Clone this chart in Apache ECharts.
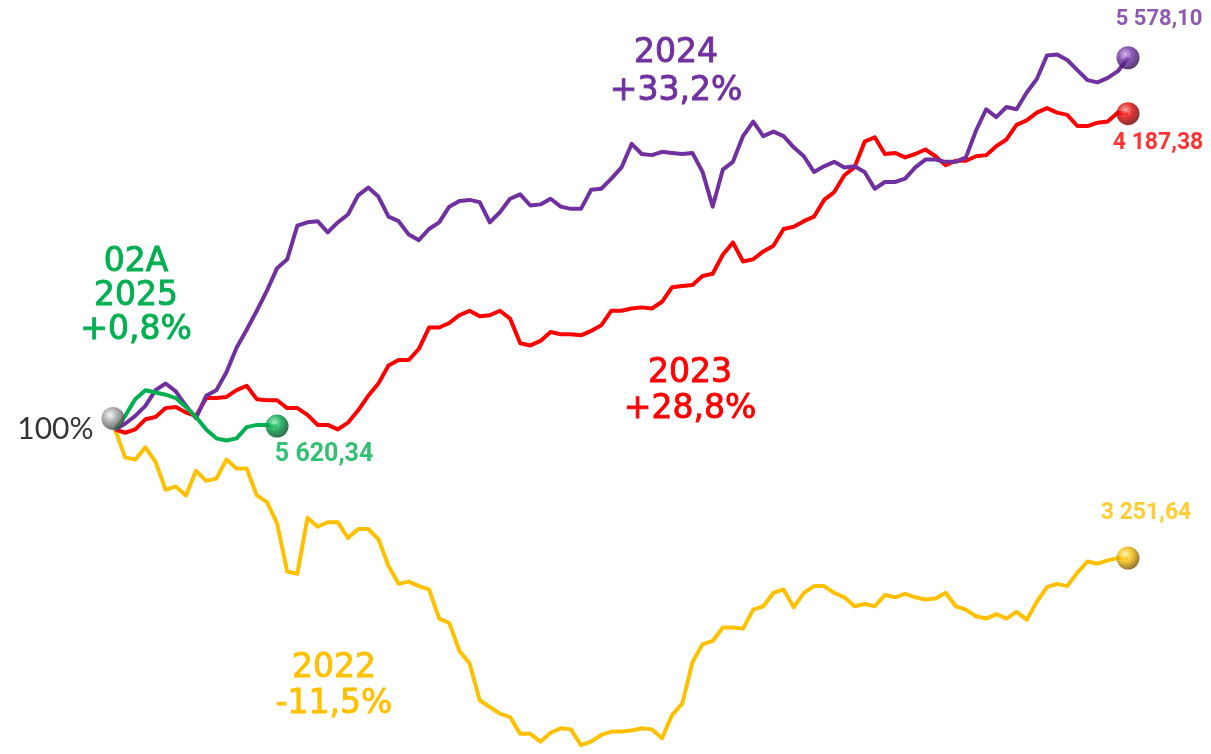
<!DOCTYPE html>
<html><head><meta charset="utf-8">
<script src="https://cdn.jsdelivr.net/npm/echarts@6/dist/echarts.min.js"></script>
<style>html,body{margin:0;padding:0;background:#fff}#c{width:1211px;height:754px}</style>
</head><body><div id="c"></div>
<script>
// percent change from start, sampled every 2.5 trading days
const STEP = 2.5;
const y2024 = [0.0,0.5,1.2,2.1,3.5,4.1,3.4,2.1,1.0,3.0,3.5,5.1,7.3,8.9,10.6,12.4,14.4,15.2,18.2,18.5,18.6,17.6,18.5,19.2,20.9,21.6,20.8,19.0,18.6,17.4,16.9,17.9,18.5,19.9,20.4,20.5,20.3,18.5,19.4,20.6,21.0,20.0,20.1,20.6,19.9,19.7,19.7,21.4,21.5,22.4,23.4,25.5,24.6,24.5,24.8,24.7,24.6,24.7,23.0,19.9,23.2,23.9,26.2,27.5,26.2,26.6,26.2,25.2,24.4,23.0,23.5,23.9,23.4,23.5,23.0,21.5,22.1,22.1,22.4,23.4,24.1,24.1,23.9,23.9,24.3,26.7,28.6,27.9,28.8,28.6,30.1,31.3,33.4,33.5,33.0,32.1,31.2,31.0,31.4,32.0,33.2];
const y2023 = [0.0,-0.3,0.0,0.9,1.1,1.9,2.0,1.5,1.2,2.8,2.8,2.9,3.5,3.9,2.7,2.6,2.6,1.9,1.9,1.3,0.4,0.4,0.0,0.6,1.7,3.0,4.1,5.7,6.2,6.2,7.2,9.1,9.1,9.5,10.2,10.6,10.1,10.2,10.6,9.9,7.7,7.5,7.9,8.7,8.5,8.5,8.4,8.8,9.3,10.6,10.6,10.8,10.9,10.8,11.4,12.7,12.8,12.9,13.7,13.9,15.6,16.7,15.0,15.2,15.9,16.4,17.9,18.1,18.6,19.0,20.5,21.2,22.7,23.4,25.7,26.1,24.6,24.7,24.3,24.6,25.0,24.4,23.6,24.0,24.0,24.4,24.5,25.3,25.9,27.2,27.6,28.3,28.7,28.3,28.1,27.1,27.1,27.4,27.5,28.3,28.2];
const y2022 = [0.0,-2.5,-2.7,-1.6,-2.9,-5.4,-5.1,-5.9,-3.7,-4.6,-4.4,-2.7,-3.5,-3.5,-5.9,-6.5,-8.4,-12.7,-12.9,-7.9,-8.7,-8.3,-8.3,-9.7,-8.9,-8.9,-9.8,-12.2,-13.8,-13.6,-14.0,-14.3,-16.9,-17.3,-19.8,-20.9,-24.2,-24.8,-25.4,-25.7,-27.2,-27.2,-27.9,-27.1,-26.7,-26.8,-28.2,-27.9,-27.3,-27.0,-27.0,-26.9,-26.7,-26.8,-27.6,-25.5,-24.5,-20.8,-19.2,-18.9,-17.7,-17.7,-17.8,-16.1,-15.8,-14.6,-14.3,-15.9,-14.6,-14.0,-14.0,-14.6,-15.0,-15.8,-15.6,-15.8,-14.8,-15.0,-14.7,-15.0,-15.2,-15.1,-14.6,-15.8,-16.1,-16.7,-16.9,-16.5,-16.9,-16.3,-17.0,-15.4,-14.1,-13.8,-14.0,-12.8,-11.8,-12.0,-11.7,-11.5,-11.5];
const y2025 = [0.0,1.2,2.7,3.5,3.3,3.1,2.8,2.0,1.1,0.0,-0.8,-1.0,-0.8,0.2,0.4,0.4,0.3];
const years = ['2022','2023','2024','02A\n2025'];
const endLabels = ['3 251,64','4 187,38','5 578,10','5 620,34'];
const changeLabels = ['-11,5%','+28,8%','+33,2%','+0,8%'];
const startLabel = '100%';

const FONT = 'Lato, "Open Sans", sans-serif';
const VAL = 'Roboto, "Open Sans", sans-serif';
const BIG = '"DejaVu Sans", sans-serif';
const toXY = arr => arr.map((v,i)=>[i*STEP, v]);
const last = arr => [(arr.length-1)*STEP, arr[arr.length-1]];

function ball(c1, c2, c3){
  return {type:'radial', x:0.38, y:0.35, r:0.7, colorStops:[
    {offset:0, color:c1},{offset:0.45, color:c2},{offset:1, color:c3}]};
}
function lineSeries(name, arr, color, z){
  return {name, type:'line', data:toXY(arr), showSymbol:false, smooth:false,
    lineStyle:{color, width:4, join:'round'}, z, silent:true, animation:false};
}
function endBall(arr, grad, label, lblColor, pos, offset, fs, fw, z){
  return {type:'scatter', data:[last(arr)], symbol:'circle', symbolSize:23, z, animation:false,
    itemStyle:{color:grad},
    label:{show:true, formatter:label, position:pos, offset, color:lblColor,
      fontFamily:VAL, fontSize:fs, fontWeight:fw}};
}
function bigText(text, color, x, y, lh){
  return {type:'text', style:{text, fill:color, stroke:color, lineWidth:0.9, font:'33px '+BIG, align:'center', lineHeight:lh}, x, y, z:20};
}

const chart = echarts.init(document.getElementById('c'), null, {renderer:'canvas'});
chart.setOption({
  animation:false,
  grid:{left:115, top:37.6, width:1013, height:721.2},
  xAxis:{type:'value', min:0, max:250, show:false},
  yAxis:{type:'value', min:-29, max:35, show:false},
  series:[
    lineSeries(years[0], y2022, '#FFC000', 2),
    lineSeries(years[1], y2023, '#FF0000', 3),
    lineSeries(years[2], y2024, '#7030A0', 4),
    lineSeries(years[3], y2025, '#00B050', 5),
    endBall(y2022, ball('#fff6a0','#f0b800','#6b4a00'), endLabels[0], '#FFC000', 'top', [18,-17], 23, 'bold', 10),
    endBall(y2023, ball('#ff9a9a','#e00000','#5a0000'), endLabels[1], '#FF0000', 'bottom', [30,2], 23, 'bold', 10),
    endBall(y2024, ball('#c9a6e6','#6a2fa0','#2a0a45'), endLabels[2], '#7030A0', 'top', [31,-11], 22, 'bold', 10),
    endBall(y2025, ball('#8ef0b0','#00a048','#00401c'), endLabels[3], '#00B050', 'bottom', [47,0], 25, 'bold', 10),
    {type:'scatter', data:[[0,0]], symbol:'circle', symbolSize:23, symbolOffset:[-2,-11], z:11,
      itemStyle:{color:ball('#f4f4f4','#9a9a9a','#3c3c3c')},
      label:{show:true, formatter:startLabel, position:'left', offset:[-3,11], color:'#000',
        fontFamily:FONT, fontSize:30, fontWeight:400}}
  ],
  graphic:[
    bigText(years[2]+'\n'+changeLabels[2], '#7030A0', 676, 34, 38),
    bigText(years[1]+'\n'+changeLabels[1], '#FF0000', 690, 355, 36),
    bigText(years[0]+'\n'+changeLabels[0], '#FFC000', 334, 650, 36),
    bigText(years[3]+'\n'+changeLabels[3], '#00B050', 136, 245, 34)
  ]
});
</script></body></html>
